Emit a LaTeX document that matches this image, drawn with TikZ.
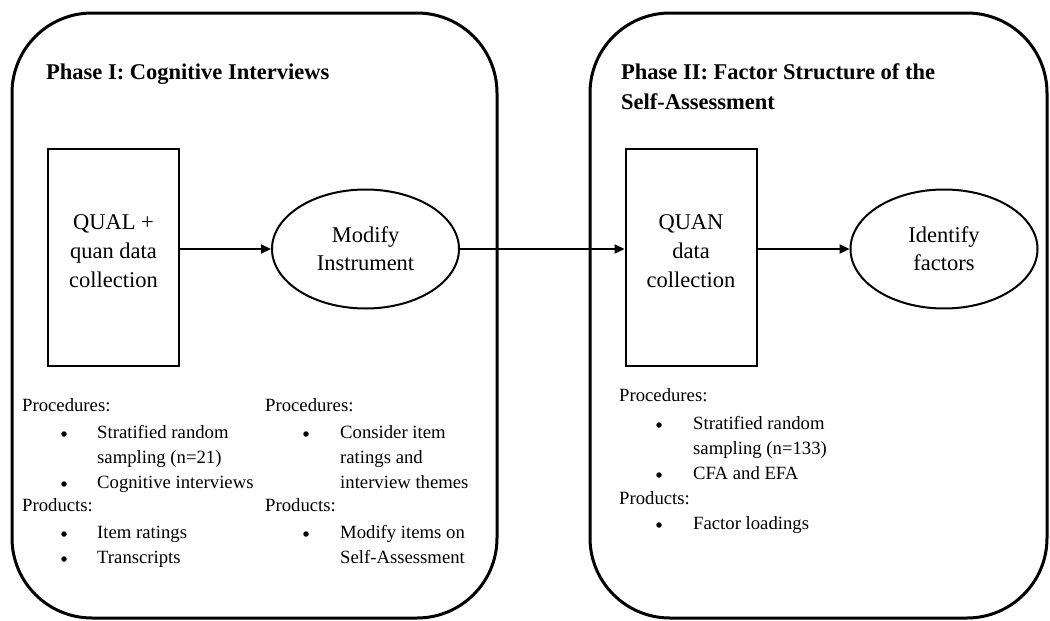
\documentclass[tikz,border=0pt]{standalone}
\usepackage{fontspec}
\setmainfont{Liberation Serif}
\usetikzlibrary{arrows.meta,shapes.geometric}
\begin{document}
\begin{tikzpicture}[x=1pt,y=-1pt,
  phase/.style={draw, line width=3pt, rounded corners=80pt, inner sep=0pt},
  stage/.style={draw, line width=2pt, minimum width=131pt, minimum height=217pt, inner sep=0pt},
  oval/.style={draw, ellipse, line width=2pt, minimum width=187pt, minimum height=119pt, inner sep=0pt, align=center, font=\fontsize{22.5}{28}\selectfont},
  boxtext/.style={align=center, font=\fontsize{22.5}{29}\selectfont, inner sep=0pt},
  ttl/.style={anchor=mid west, font=\fontsize{22.5}{30}\selectfont\bfseries, inner sep=0pt},
  itm/.style={anchor=mid west, font=\fontsize{18.7}{25}\selectfont, inner sep=0pt},
  bul/.style={circle, fill, inner sep=0pt, minimum size=5.5pt},
  flow/.style={line width=2.2pt, -{Triangle[length=10pt,width=9pt]}}
]
\useasboundingbox (0,0) rectangle (1050,621);

% phase containers
\node[phase, minimum width=485pt, minimum height=605pt] (p1) at (254.5,315.5) {};
\node[phase, minimum width=457pt, minimum height=605pt] (p2) at (818.5,315.5) {};

% titles
\node[ttl] (t1) at (46,77) {Phase I: Cognitive Interviews};
\node[ttl] (t2a) at (621,77) {Phase II: Factor Structure of the};
\node[ttl] (t2b) at (621,107) {Self-Assessment};

% stages
\node[stage] (q1) at (113.5,257.5) {};
\node[boxtext] (q1t) at (113.5,251) {QUAL +\\quan data\\collection};
\node[oval] (m1) at (365.5,249) {Modify\\Instrument};
\node[stage] (q2) at (691,257.5) {};
\node[boxtext] (q2t) at (691,251) {QUAN\\data\\collection};
\node[oval] (f2) at (944,249) {Identify\\factors};

% connectors
\draw[flow] (q1.east |- m1.west) -- (m1.west);
\draw[flow] (m1.east) -- (q2.west |- m1.east);
\draw[flow] (q2.east |- f2.west) -- (f2.west);

% left column
\node[itm] (a1) at (22,409) {Procedures:};
\node[bul] (a2b) at (64,434) {};
\node[itm] (a2) at (97,436) {Stratified random};
\node[itm] (a3) at (97,461) {sampling (n=21)};
\node[bul] (a4b) at (64,484) {};
\node[itm] (a4) at (97,486) {Cognitive interviews};
\node[itm] (a5) at (22,509) {Products:};
\node[bul] (a6b) at (64,534) {};
\node[itm] (a6) at (97,536) {Item ratings};
\node[bul] (a7b) at (64,559) {};
\node[itm] (a7) at (97,561) {Transcripts};

% middle column
\node[itm] (b1) at (265,409) {Procedures:};
\node[bul] (b2b) at (306,434) {};
\node[itm] (b2) at (340,436) {Consider item};
\node[itm] (b3) at (340,461) {ratings and};
\node[itm] (b4) at (340,486) {interview themes};
\node[itm] (b5) at (265,509) {Products:};
\node[bul] (b6b) at (306,534) {};
\node[itm] (b6) at (340,536) {Modify items on};
\node[itm] (b7) at (340,561) {Self-Assessment};

% right column
\node[itm] (c1) at (619,399) {Procedures:};
\node[bul] (c2b) at (659,425) {};
\node[itm] (c2) at (693,427) {Stratified random};
\node[itm] (c3) at (693,452) {sampling (n=133)};
\node[bul] (c4b) at (659,475) {};
\node[itm] (c4) at (693,477) {CFA and EFA};
\node[itm] (c5) at (619,502) {Products:};
\node[bul] (c6b) at (659,525) {};
\node[itm] (c6) at (693,527) {Factor loadings};
\end{tikzpicture}
\end{document}
